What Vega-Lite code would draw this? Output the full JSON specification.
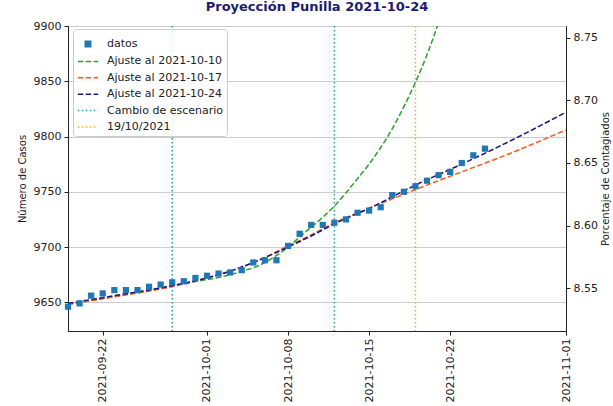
{
  "$schema": "https://vega.github.io/schema/vega-lite/v6.json",
  "width": 498,
  "height": 305,
  "autosize": {"type": "none"},
  "padding": {"left": 68, "top": 26, "right": 47, "bottom": 75},
  "background": "white",
  "title": {"text": "Proyección Punilla 2021-10-24", "font": "DejaVu Sans", "fontSize": 13, "fontWeight": "bold", "color": "#1c1c6e", "anchor": "middle", "offset": 6},
  "config": {
    "view": {"stroke": "#222222", "strokeWidth": 1},
    "axis": {"labelFont": "DejaVu Sans", "labelFontSize": 11, "labelColor": "#222222", "tickColor": "#222222", "domainColor": "#222222", "tickSize": 4, "labelPadding": 3, "titleFont": "DejaVu Sans", "titleFontSize": 10, "titleFontWeight": "normal", "titleColor": "#222222", "gridColor": "#cccccc", "gridWidth": 1},
    "legend": {"labelFont": "DejaVu Sans", "labelFontSize": 11, "labelColor": "#222222"}
  },
  "datasets": {
    "datos": [
      {"fecha": "2021-09-19", "casos": 9646, "serie": "datos"},
      {"fecha": "2021-09-20", "casos": 9649, "serie": "datos"},
      {"fecha": "2021-09-21", "casos": 9656, "serie": "datos"},
      {"fecha": "2021-09-22", "casos": 9658, "serie": "datos"},
      {"fecha": "2021-09-23", "casos": 9661, "serie": "datos"},
      {"fecha": "2021-09-24", "casos": 9661, "serie": "datos"},
      {"fecha": "2021-09-25", "casos": 9661, "serie": "datos"},
      {"fecha": "2021-09-26", "casos": 9664, "serie": "datos"},
      {"fecha": "2021-09-27", "casos": 9666, "serie": "datos"},
      {"fecha": "2021-09-28", "casos": 9668, "serie": "datos"},
      {"fecha": "2021-09-29", "casos": 9669, "serie": "datos"},
      {"fecha": "2021-09-30", "casos": 9672, "serie": "datos"},
      {"fecha": "2021-10-01", "casos": 9674, "serie": "datos"},
      {"fecha": "2021-10-02", "casos": 9676, "serie": "datos"},
      {"fecha": "2021-10-03", "casos": 9677, "serie": "datos"},
      {"fecha": "2021-10-04", "casos": 9679, "serie": "datos"},
      {"fecha": "2021-10-05", "casos": 9686, "serie": "datos"},
      {"fecha": "2021-10-06", "casos": 9688, "serie": "datos"},
      {"fecha": "2021-10-07", "casos": 9688, "serie": "datos"},
      {"fecha": "2021-10-08", "casos": 9701, "serie": "datos"},
      {"fecha": "2021-10-09", "casos": 9712, "serie": "datos"},
      {"fecha": "2021-10-10", "casos": 9720, "serie": "datos"},
      {"fecha": "2021-10-11", "casos": 9720, "serie": "datos"},
      {"fecha": "2021-10-12", "casos": 9722, "serie": "datos"},
      {"fecha": "2021-10-13", "casos": 9725, "serie": "datos"},
      {"fecha": "2021-10-14", "casos": 9731, "serie": "datos"},
      {"fecha": "2021-10-15", "casos": 9733, "serie": "datos"},
      {"fecha": "2021-10-16", "casos": 9736, "serie": "datos"},
      {"fecha": "2021-10-17", "casos": 9747, "serie": "datos"},
      {"fecha": "2021-10-18", "casos": 9750, "serie": "datos"},
      {"fecha": "2021-10-19", "casos": 9755, "serie": "datos"},
      {"fecha": "2021-10-20", "casos": 9760, "serie": "datos"},
      {"fecha": "2021-10-21", "casos": 9765, "serie": "datos"},
      {"fecha": "2021-10-22", "casos": 9768, "serie": "datos"},
      {"fecha": "2021-10-23", "casos": 9776, "serie": "datos"},
      {"fecha": "2021-10-24", "casos": 9783, "serie": "datos"},
      {"fecha": "2021-10-25", "casos": 9789, "serie": "datos"}
    ],
    "ajustes": [
      {"fecha": "2021-09-19", "casos": 9648, "serie": "Ajuste al 2021-10-10"},
      {"fecha": "2021-09-24", "casos": 9657, "serie": "Ajuste al 2021-10-10"},
      {"fecha": "2021-09-29", "casos": 9667, "serie": "Ajuste al 2021-10-10"},
      {"fecha": "2021-10-03", "casos": 9675, "serie": "Ajuste al 2021-10-10"},
      {"fecha": "2021-10-06", "casos": 9686, "serie": "Ajuste al 2021-10-10"},
      {"fecha": "2021-10-08", "casos": 9700, "serie": "Ajuste al 2021-10-10"},
      {"fecha": "2021-10-09", "casos": 9709, "serie": "Ajuste al 2021-10-10"},
      {"fecha": "2021-10-10", "casos": 9718, "serie": "Ajuste al 2021-10-10"},
      {"fecha": "2021-10-11", "casos": 9727, "serie": "Ajuste al 2021-10-10"},
      {"fecha": "2021-10-12", "casos": 9737, "serie": "Ajuste al 2021-10-10"},
      {"fecha": "2021-10-13", "casos": 9749, "serie": "Ajuste al 2021-10-10"},
      {"fecha": "2021-10-14", "casos": 9762, "serie": "Ajuste al 2021-10-10"},
      {"fecha": "2021-10-15", "casos": 9775, "serie": "Ajuste al 2021-10-10"},
      {"fecha": "2021-10-16", "casos": 9790, "serie": "Ajuste al 2021-10-10"},
      {"fecha": "2021-10-17", "casos": 9807, "serie": "Ajuste al 2021-10-10"},
      {"fecha": "2021-10-18", "casos": 9827, "serie": "Ajuste al 2021-10-10"},
      {"fecha": "2021-10-19", "casos": 9849, "serie": "Ajuste al 2021-10-10"},
      {"fecha": "2021-10-20", "casos": 9874, "serie": "Ajuste al 2021-10-10"},
      {"fecha": "2021-10-21", "casos": 9903, "serie": "Ajuste al 2021-10-10"},
      {"fecha": "2021-09-19", "casos": 9648, "serie": "Ajuste al 2021-10-17"},
      {"fecha": "2021-09-23", "casos": 9655, "serie": "Ajuste al 2021-10-17"},
      {"fecha": "2021-09-27", "casos": 9662, "serie": "Ajuste al 2021-10-17"},
      {"fecha": "2021-10-01", "casos": 9672, "serie": "Ajuste al 2021-10-17"},
      {"fecha": "2021-10-05", "casos": 9686, "serie": "Ajuste al 2021-10-17"},
      {"fecha": "2021-10-08", "casos": 9701, "serie": "Ajuste al 2021-10-17"},
      {"fecha": "2021-10-10", "casos": 9711, "serie": "Ajuste al 2021-10-17"},
      {"fecha": "2021-10-12", "casos": 9722, "serie": "Ajuste al 2021-10-17"},
      {"fecha": "2021-10-15", "casos": 9735, "serie": "Ajuste al 2021-10-17"},
      {"fecha": "2021-10-19", "casos": 9752, "serie": "Ajuste al 2021-10-17"},
      {"fecha": "2021-10-23", "casos": 9768, "serie": "Ajuste al 2021-10-17"},
      {"fecha": "2021-10-27", "casos": 9784, "serie": "Ajuste al 2021-10-17"},
      {"fecha": "2021-11-01", "casos": 9806, "serie": "Ajuste al 2021-10-17"},
      {"fecha": "2021-09-19", "casos": 9649, "serie": "Ajuste al 2021-10-24"},
      {"fecha": "2021-09-23", "casos": 9656, "serie": "Ajuste al 2021-10-24"},
      {"fecha": "2021-09-27", "casos": 9663, "serie": "Ajuste al 2021-10-24"},
      {"fecha": "2021-10-01", "casos": 9672, "serie": "Ajuste al 2021-10-24"},
      {"fecha": "2021-10-03", "casos": 9678, "serie": "Ajuste al 2021-10-24"},
      {"fecha": "2021-10-05", "casos": 9686, "serie": "Ajuste al 2021-10-24"},
      {"fecha": "2021-10-07", "casos": 9695, "serie": "Ajuste al 2021-10-24"},
      {"fecha": "2021-10-08", "casos": 9700, "serie": "Ajuste al 2021-10-24"},
      {"fecha": "2021-10-10", "casos": 9710, "serie": "Ajuste al 2021-10-24"},
      {"fecha": "2021-10-12", "casos": 9721, "serie": "Ajuste al 2021-10-24"},
      {"fecha": "2021-10-15", "casos": 9735, "serie": "Ajuste al 2021-10-24"},
      {"fecha": "2021-10-19", "casos": 9756, "serie": "Ajuste al 2021-10-24"},
      {"fecha": "2021-10-23", "casos": 9775, "serie": "Ajuste al 2021-10-24"},
      {"fecha": "2021-10-27", "casos": 9795, "serie": "Ajuste al 2021-10-24"},
      {"fecha": "2021-11-01", "casos": 9822, "serie": "Ajuste al 2021-10-24"}
    ],
    "marcas": [
      {"fecha": "2021-09-28", "serie": "Cambio de escenario"},
      {"fecha": "2021-10-12", "serie": "Cambio de escenario"},
      {"fecha": "2021-10-19", "serie": "19/10/2021"}
    ]
  },
  "layer": [
    {
      "encoding": {
        "x": {
          "field": "fecha", "type": "temporal", "title": null,
          "scale": {"type": "utc", "domain": [{"year": 2021, "month": 9, "date": 19, "utc": true}, {"year": 2021, "month": 11, "date": 1, "utc": true}]},
          "axis": {"grid": false, "labelAngle": -90, "format": "%Y-%m-%d",
            "values": [{"year": 2021, "month": 9, "date": 22, "utc": true}, {"year": 2021, "month": 10, "date": 1, "utc": true}, {"year": 2021, "month": 10, "date": 8, "utc": true}, {"year": 2021, "month": 10, "date": 15, "utc": true}, {"year": 2021, "month": 10, "date": 22, "utc": true}, {"year": 2021, "month": 11, "date": 1, "utc": true}]}
        },
        "y": {
          "field": "casos", "type": "quantitative", "title": "Número de Casos",
          "scale": {"domain": [9624, 9900], "nice": false, "zero": false},
          "axis": {"values": [9650, 9700, 9750, 9800, 9850, 9900], "format": "d", "grid": true, "titlePadding": 6}
        },
        "color": {
          "field": "serie", "type": "nominal",
          "scale": {
            "domain": ["datos", "Ajuste al 2021-10-10", "Ajuste al 2021-10-17", "Ajuste al 2021-10-24", "Cambio de escenario", "19/10/2021"],
            "range": ["#1f77b4", "#2ca02c", "#fa5a1e", "#14148c", "#1a9fb0", "#ffa51e"]
          },
          "legend": {
            "title": null, "orient": "none", "legendX": 5, "legendY": 3,
            "fillColor": "rgba(255,255,255,0.85)", "strokeColor": "#cccccc", "cornerRadius": 3,
            "padding": 4, "rowPadding": 0.4, "symbolSize": 416, "symbolStrokeWidth": 1.5, "labelOffset": 8
          }
        }
      },
      "layer": [
        {
          "data": {"name": "marcas"},
          "mark": {"type": "rule", "strokeWidth": 1.5},
          "encoding": {
            "y": null,
            "strokeDash": {
              "field": "serie", "type": "nominal",
              "scale": {
                "domain": ["datos", "Ajuste al 2021-10-10", "Ajuste al 2021-10-17", "Ajuste al 2021-10-24", "Cambio de escenario", "19/10/2021"],
                "range": [[1, 0], [5.5, 2.4], [5.5, 2.4], [5.5, 2.4], [1.5, 2.5], [1.5, 2.5]]
              }
            }
          }
        },
        {
          "data": {"name": "ajustes"},
          "mark": {"type": "line", "strokeWidth": 1.5, "clip": true, "interpolate": "monotone"},
          "encoding": {
            "strokeDash": {"field": "serie", "type": "nominal"}
          }
        },
        {
          "data": {"name": "datos"},
          "mark": {"type": "point", "filled": true, "opacity": 1, "size": 529},
          "encoding": {
            "shape": {
              "field": "serie", "type": "nominal",
              "scale": {
                "domain": ["datos", "Ajuste al 2021-10-10", "Ajuste al 2021-10-17", "Ajuste al 2021-10-24", "Cambio de escenario", "19/10/2021"],
                "range": ["M-0.27,-0.27H0.27V0.27H-0.27Z", "stroke", "stroke", "stroke", "stroke", "stroke"]
              }
            }
          }
        }
      ]
    },
    {
      "data": {"name": "datos"},
      "mark": {"type": "point", "opacity": 0},
      "encoding": {
        "y": {
          "field": "pct", "type": "quantitative", "title": "Porcentaje de Contagiados",
          "scale": {"domain": [8.5159, 8.7593], "nice": false, "zero": false},
          "axis": {"orient": "right", "values": [8.55, 8.6, 8.65, 8.7, 8.75], "format": ".2f", "grid": false, "titleAngle": 270, "titleBaseline": "top", "titlePadding": 3}
        }
      }
    }
  ],
  "resolve": {"scale": {"y": "independent"}}
}
